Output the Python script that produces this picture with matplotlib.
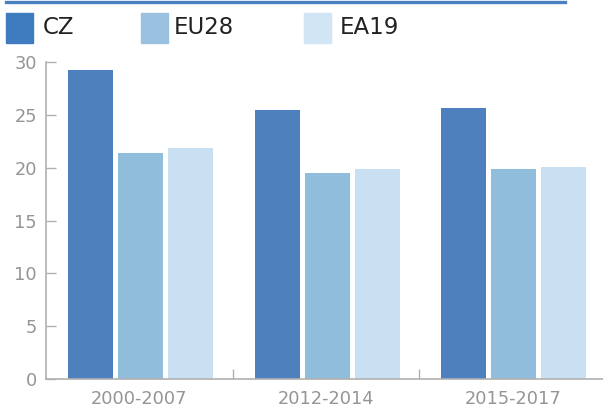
import numpy as np
import matplotlib.pyplot as plt
from matplotlib.patches import Rectangle
from matplotlib.lines import Line2D

periods = ["2000-2007", "2012-2014", "2015-2017"]
series = ["CZ", "EU28", "EA19"]
cz = [29.2, 25.45, 25.6]
eu28 = [21.4, 19.5, 19.9]
ea19 = [21.85, 19.9, 20.05]
colors = ["#4d80bc", "#8fbddb", "#c9e0f2"]
legend_colors = ["#3f7bbf", "#9ac1e0", "#d1e5f5"]

W, H = 603, 408
fig = plt.figure(figsize=(W / 100, H / 100), dpi=100)
ax = fig.add_axes([46 / W, 1 - 379 / H, 560 / W, (379 - 62) / H])

x = np.arange(len(periods))
step = 0.268
width = 0.241
for i, (vals, c) in enumerate(zip([cz, eu28, ea19], colors)):
    ax.bar(x + (i - 1) * step + 0.006, vals, width, color=c, zorder=2)

ax.set_xlim(-0.5, 2.5)
ax.set_ylim(0, 30)
ax.set_yticks(np.arange(0, 31, 5))
ax.tick_params(axis="y", direction="in", length=7, width=1, color="#b0b0b0",
               labelcolor="#959595", labelsize=12.8, pad=6.5)
# category boundaries as ticks, labels at centres
ax.set_xticks([0.5, 1.5])
ax.set_xticklabels([])
ax.set_xticks(x, minor=True)
ax.set_xticklabels(periods, minor=True)
ax.tick_params(axis="x", which="major", direction="in", length=7, width=1, color="#b0b0b0")
ax.tick_params(axis="x", which="minor", length=0, labelcolor="#959595", labelsize=12.8, pad=8)

for s in ["top", "right"]:
    ax.spines[s].set_visible(False)
for s in ["left", "bottom"]:
    ax.spines[s].set_color("#b0b0b0")
    ax.spines[s].set_linewidth(1.2)

# top rule
fig.add_artist(Line2D([6 / W, 565 / W], [1 - 1.5 / H, 1 - 1.5 / H], color="#4a80bf",
                      lw=2.4, transform=fig.transFigure))

# legend
sq_x = [6, 141, 304]
txt_x = [43, 174, 340]
for name, c, sx, tx in zip(series, legend_colors, sq_x, txt_x):
    fig.add_artist(Rectangle((sx / W, 1 - 43 / H), 27 / W, 30 / H, color=c,
                             transform=fig.transFigure))
    fig.text(tx / W, 1 - 28 / H, name, fontsize=16.5, color="#222222",
             va="center", ha="left")

fig.savefig("out.png", dpi=100)
